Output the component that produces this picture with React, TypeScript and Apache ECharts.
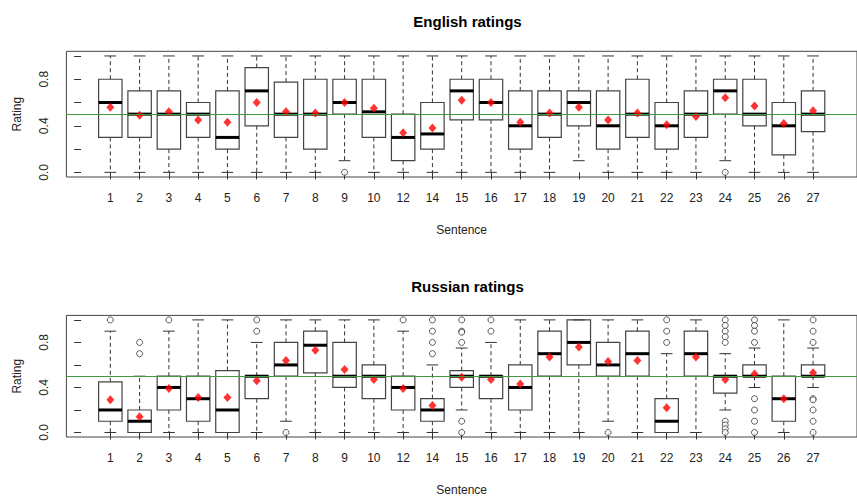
import React, { useEffect, useRef } from "react";
import * as echarts from "echarts";

const categories = ["1","2","3","4","5","6","7","8","9","10","12","14","15","16","17","18","19","20","21","22","23","24","25","26","27"];
const yTicks = [0, 0.2, 0.4, 0.6, 0.8, 1.0];
const yTickLabels = [0, 0.4, 0.8];
const referenceLine = 0.5;

// English ratings
const enLow = [0,0,0,0,0,0,0,0,0.1,0,0,0,0,0,0,0,0.1,0,0,0,0,0.1,0,0,0];
const enQ1 = [0.3,0.3,0.2,0.3,0.2,0.4,0.3,0.2,0.5,0.3,0.1,0.2,0.45,0.45,0.2,0.3,0.4,0.2,0.3,0.2,0.3,0.5,0.4,0.15,0.35];
const enMedian = [0.6,0.5,0.5,0.5,0.3,0.7,0.5,0.5,0.6,0.52,0.3,0.33,0.7,0.6,0.4,0.5,0.6,0.4,0.5,0.4,0.5,0.7,0.5,0.4,0.5];
const enQ3 = [0.8,0.7,0.7,0.6,0.7,0.9,0.775,0.8,0.8,0.8,0.5,0.6,0.8,0.8,0.7,0.7,0.7,0.7,0.8,0.6,0.7,0.8,0.8,0.6,0.7];
const enHigh = [1,1,1,1,1,1,1,1,1,1,1,1,1,1,1,1,1,1,1,1,1,1,1,1,1];
const enMean = [0.56,0.49,0.52,0.45,0.43,0.60,0.52,0.51,0.60,0.55,0.34,0.38,0.62,0.60,0.43,0.51,0.56,0.45,0.51,0.41,0.48,0.64,0.57,0.42,0.53];
const enOutliers: [string, number][] = [["9", 0], ["24", 0]];

// Russian ratings
const ruLow = [0,0,0,0,0,0,0.1,0,0,0,0,0,0.2,0,0,0,0,0.1,0,0,0,0.2,0.4,0,0.4];
const ruQ1 = [0.1,0,0.2,0.1,0,0.3,0.5,0.53,0.4,0.3,0.2,0.1,0.4,0.3,0.2,0.5,0.6,0.5,0.5,0,0.5,0.35,0.5,0.1,0.5];
const ruMedian = [0.2,0.1,0.4,0.3,0.2,0.5,0.6,0.775,0.5,0.5,0.4,0.2,0.5,0.5,0.4,0.7,0.8,0.6,0.7,0.1,0.7,0.5,0.5,0.3,0.5];
const ruQ3 = [0.45,0.2,0.5,0.5,0.55,0.5,0.8,0.9,0.8,0.6,0.5,0.3,0.55,0.5,0.6,0.9,1.0,0.8,0.9,0.3,0.9,0.5,0.6,0.5,0.6];
const ruHigh = [0.9,0.5,0.9,1,1,0.8,1,1,1,1,0.9,0.6,0.75,0.8,1,1,1,1,1,0.7,1,0.7,0.75,1,0.75];
const ruMean = [0.29,0.14,0.39,0.31,0.31,0.46,0.64,0.73,0.56,0.47,0.39,0.24,0.49,0.47,0.43,0.67,0.76,0.63,0.64,0.22,0.67,0.47,0.52,0.30,0.53];
const ruOutliers: [string, number][] = [
  ["1", 1.0],
  ["2", 0.8], ["2", 0.7],
  ["3", 1.0],
  ["6", 1.0], ["6", 0.9],
  ["7", 0],
  ["12", 1.0],
  ["14", 1.0], ["14", 0.9], ["14", 0.8], ["14", 0.7],
  ["15", 1.0], ["15", 0.9], ["15", 0.89], ["15", 0.8], ["15", 0.1], ["15", 0],
  ["16", 1.0], ["16", 0.9],
  ["20", 0],
  ["22", 1.0], ["22", 0.9], ["22", 0.8],
  ["24", 1.0], ["24", 0.95], ["24", 0.9], ["24", 0.85], ["24", 0.8], ["24", 0.1], ["24", 0.067], ["24", 0.033], ["24", 0],
  ["25", 1.0], ["25", 0.95], ["25", 0.9], ["25", 0.8], ["25", 0.3], ["25", 0.2], ["25", 0.1], ["25", 0],
  ["27", 1.0], ["27", 0.9], ["27", 0.8], ["27", 0.3], ["27", 0.29], ["27", 0.2], ["27", 0.1], ["27", 0],
];

const FONT = "'Liberation Sans', Arial, sans-serif";
const positions = categories.map((_, i) => i + 1);
const posOf = (c: string) => categories.indexOf(c) + 1;

function boxData(lo: number[], q1: number[], md: number[], q3: number[], hi: number[]) {
  return positions.map((p, i) => [p, lo[i], q1[i], md[i], q3[i], hi[i]]);
}

const renderBox = (params: any, api: any) => {
  const x = api.value(0);
  const lo = api.coord([x, api.value(1)]);
  const q1 = api.coord([x, api.value(2)]);
  const md = api.coord([x, api.value(3)]);
  const q3 = api.coord([x, api.value(4)]);
  const hi = api.coord([x, api.value(5)]);
  const bw = api.size([0.8, 0])[0];
  const sw = api.size([0.4, 0])[0];
  const cx = lo[0];
  const stroke = "#333";
  const children: any[] = [
    { type: "line", shape: { x1: cx, y1: q3[1], x2: cx, y2: hi[1] }, style: { stroke, lineWidth: 1, lineDash: [4, 3] } },
    { type: "line", shape: { x1: cx, y1: q1[1], x2: cx, y2: lo[1] }, style: { stroke, lineWidth: 1, lineDash: [4, 3] } },
    { type: "line", shape: { x1: cx - sw / 2, y1: hi[1], x2: cx + sw / 2, y2: hi[1] }, style: { stroke, lineWidth: 1 } },
    { type: "line", shape: { x1: cx - sw / 2, y1: lo[1], x2: cx + sw / 2, y2: lo[1] }, style: { stroke, lineWidth: 1 } },
    { type: "rect", shape: { x: cx - bw / 2, y: q3[1], width: bw, height: q1[1] - q3[1] }, style: { fill: "none", stroke: "#444", lineWidth: 1.2 } },
    { type: "line", shape: { x1: cx - bw / 2, y1: md[1], x2: cx + bw / 2, y2: md[1] }, style: { stroke: "#000", lineWidth: 3 } },
  ];
  return { type: "group", children };
};

const GRID_LEFT = 66.4;
const GRID_RIGHT = 857 - 868.6;

function xAxisFor(gridIndex: number) {
  return {
    type: "value",
    gridIndex,
    min: -0.5,
    max: 26.5,
    name: "Sentence",
    nameLocation: "middle",
    nameGap: 47,
    nameTextStyle: { fontFamily: FONT, fontSize: 12, color: "#222" },
    axisLine: { show: false },
    splitLine: { show: false },
    axisTick: { show: true, inside: false, length: 7, customValues: positions, lineStyle: { color: "#333" } },
    axisLabel: {
      show: true,
      margin: 15,
      customValues: positions,
      formatter: (v: number) => categories[Math.round(v) - 1] ?? "",
      fontFamily: FONT,
      fontSize: 12,
      color: "#222",
    },
  };
}

function yAxisFor(gridIndex: number) {
  return {
    type: "value",
    gridIndex,
    min: -0.04,
    max: 1.04,
    name: "Rating",
    nameLocation: "middle",
    nameRotate: 90,
    nameGap: 43,
    nameTextStyle: { fontFamily: FONT, fontSize: 12, color: "#222" },
    axisLine: { show: false },
    splitLine: { show: false },
    axisTick: { show: true, inside: false, length: 7, customValues: yTicks, lineStyle: { color: "#333" } },
    axisLabel: {
      show: true,
      rotate: 90,
      margin: 16,
      customValues: yTickLabels,
      formatter: (v: number) => v.toFixed(1),
      fontFamily: FONT,
      fontSize: 12,
      color: "#222",
    },
  };
}

function panelSeries(idx: number, lo: number[], q1: number[], md: number[], q3: number[], hi: number[], mean: number[], outliers: [string, number][]) {
  return [
    {
      type: "line",
      xAxisIndex: idx,
      yAxisIndex: idx,
      data: [],
      z: 1,
      markLine: {
        silent: true,
        symbol: ["none", "none"],
        label: { show: false },
        lineStyle: { color: "#3f9b3f", width: 1, type: "solid" },
        data: [{ yAxis: referenceLine }],
      },
    },
    {
      type: "custom",
      xAxisIndex: idx,
      yAxisIndex: idx,
      z: 2,
      renderItem: renderBox,
      encode: { x: 0, y: [1, 2, 3, 4, 5] },
      data: boxData(lo, q1, md, q3, hi),
    },
    {
      type: "scatter",
      xAxisIndex: idx,
      yAxisIndex: idx,
      z: 3,
      symbol: "circle",
      symbolSize: 6,
      itemStyle: { color: "#fff", borderColor: "#333", borderWidth: 1 },
      data: outliers.map(([c, v]) => [posOf(c), v]),
    },
    {
      type: "scatter",
      xAxisIndex: idx,
      yAxisIndex: idx,
      z: 4,
      symbol: "diamond",
      symbolSize: [8, 9],
      itemStyle: { color: "#ff0000" },
      data: positions.map((p, i) => [p, mean[i]]),
    },
  ];
}

export default function App() {
  const ref = useRef<HTMLDivElement>(null);
  useEffect(() => {
    if (!ref.current) return;
    const chart = echarts.init(ref.current, null, { renderer: "svg" });
    chart.setOption({
      animation: false,
      backgroundColor: "#fff",
      grid: [
        { left: GRID_LEFT, right: GRID_RIGHT, top: 51.3, height: 125.7, show: true, borderColor: "#444", borderWidth: 1, backgroundColor: "transparent", containLabel: false },
        { left: GRID_LEFT, right: GRID_RIGHT, top: 315.4, height: 125.3, show: true, borderColor: "#444", borderWidth: 1, backgroundColor: "transparent", containLabel: false },
      ],
      xAxis: [xAxisFor(0), xAxisFor(1)],
      yAxis: [yAxisFor(0), yAxisFor(1)],
      graphic: [
        { type: "text", x: 467.5, y: 21, style: { text: "English ratings", font: `bold 15px ${FONT}`, fill: "#000", align: "center", verticalAlign: "middle" } },
        { type: "text", x: 467.5, y: 286, style: { text: "Russian ratings", font: `bold 15px ${FONT}`, fill: "#000", align: "center", verticalAlign: "middle" } },
      ],
      series: [
        ...panelSeries(0, enLow, enQ1, enMedian, enQ3, enHigh, enMean, enOutliers),
        ...panelSeries(1, ruLow, ruQ1, ruMedian, ruQ3, ruHigh, ruMean, ruOutliers),
      ],
    });
    return () => chart.dispose();
  }, []);
  return <div ref={ref} style={{ position: "absolute", left: 0, top: 0, width: 857, height: 497 }} />;
}
